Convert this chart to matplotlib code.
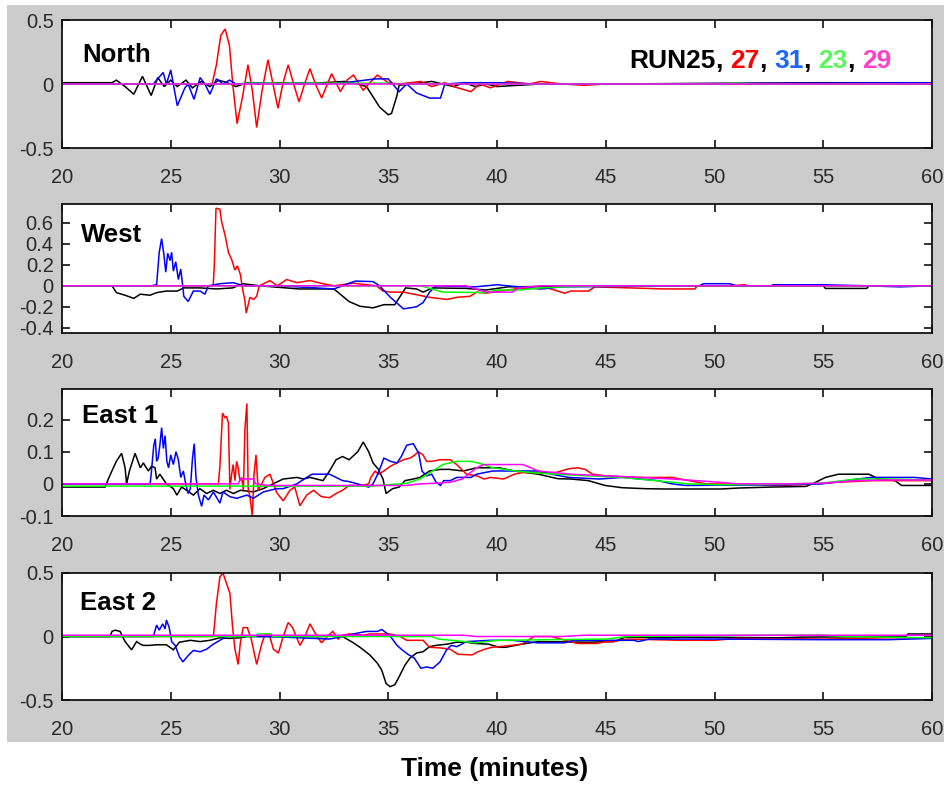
import matplotlib
matplotlib.use("Agg")
import matplotlib.pyplot as plt
from matplotlib.patches import Rectangle

plt.rcParams['font.family'] = ['Liberation Sans', 'DejaVu Sans']

# ---------------- data ----------------
RUN_LABELS = ["RUN25", "27", "31", "23", "29"]
LINE_COLORS = ["#000000", "#ff0000", "#0000ff", "#00ff00", "#ff00ff"]
LABEL_COLORS = ["#000000", "#ff0000", "#1a66ff", "#5cf55c", "#ff40c8"]
PANEL_NAMES = ["North", "West", "East 1", "East 2"]
X_TICKS = [20, 25, 30, 35, 40, 45, 50, 55, 60]
X_LABEL = "Time (minutes)"

NORTH_YTICKS = [-0.5, 0, 0.5]
WEST_YTICKS = [-0.4, -0.2, 0, 0.2, 0.4, 0.6]
EAST1_YTICKS = [-0.1, 0, 0.1, 0.2]
EAST2_YTICKS = [-0.5, 0, 0.5]
NORTH_YLIM = (-0.5, 0.5)
WEST_YLIM = (-0.45, 0.78)
EAST1_YLIM = (-0.1, 0.295)
EAST2_YLIM = (-0.5, 0.5)

# North panel: (time [min], value)
N_RUN25 = [(20, 0.01), (22.3, 0.01), (22.5, 0.03), (22.9, -0.02), (23.3, -0.08), (23.7, 0.06),
           (24.1, -0.09), (24.4, 0.05), (24.7, -0.02), (25.0, 0.03), (25.3, -0.02), (25.7, 0.03),
           (26.0, -0.03), (26.4, 0.02), (26.8, -0.02), (27.2, 0.03), (27.6, 0.01), (28.0, -0.02),
           (28.5, 0.01), (29, 0.0), (30, 0.01), (31, 0.0), (32, 0.01), (33, 0.02), (33.6, 0.0),
           (34.0, -0.02), (34.3, -0.1), (34.6, -0.18), (35.0, -0.24), (35.15, -0.23), (35.4, -0.09),
           (35.5, -0.01), (36, 0.0), (37, 0.02), (37.5, 0.0), (38, -0.02), (38.5, 0.01), (39, -0.02),
           (39.5, 0.0), (40, -0.02), (41, -0.01), (42, 0.0), (45, 0.0), (55, 0.01), (60, 0.01)]
N_RUN27 = [(20, 0.0), (26.9, 0.0), (27.1, 0.15), (27.3, 0.38), (27.5, 0.43), (27.7, 0.3), (27.85, 0.0),
           (28.05, -0.31), (28.3, -0.1), (28.55, 0.15), (28.75, -0.05), (28.95, -0.34), (29.2, -0.05),
           (29.47, 0.19), (29.7, 0.0), (29.93, -0.19), (30.15, 0.0), (30.4, 0.15), (30.65, 0.0),
           (30.9, -0.14), (31.15, 0.0), (31.4, 0.12), (31.65, 0.0), (31.94, -0.11), (32.2, 0.0),
           (32.4, 0.08), (32.8, -0.06), (33.1, 0.03), (33.4, 0.07), (33.85, -0.05), (34.1, 0.0),
           (34.5, 0.07), (35.0, 0.01), (35.5, 0.0), (36.5, 0.02), (37, -0.02), (37.6, 0.01),
           (38.0, -0.02), (38.8, -0.06), (39.2, 0.0), (39.7, -0.03), (40.5, 0.02), (41.5, 0.0),
           (42, 0.02), (43, 0.0), (44, -0.01), (45, 0.0), (60, 0.0)]
N_RUN31 = [(20, 0.0), (24.2, 0.0), (24.45, 0.05), (24.65, 0.09), (24.8, 0.0), (25.0, 0.11),
           (25.3, -0.17), (25.65, -0.03), (25.8, 0.0), (26.07, -0.12), (26.35, 0.05), (26.57, 0.0),
           (26.8, -0.08), (27.1, 0.04), (27.4, 0.0), (27.7, 0.03), (28.0, 0.0), (29, 0.01), (30, 0.0),
           (31, 0.01), (32, 0.0), (33, 0.01), (34.4, 0.04), (35.0, 0.04), (35.5, -0.06), (35.85, 0.0),
           (36.3, -0.07), (36.9, -0.11), (37.4, -0.11), (37.6, 0.0), (38.5, 0.01), (40, 0.01),
           (42, 0.0), (45, 0.0), (60, 0.01)]
N_RUN23 = [(20, 0.0), (28.3, 0.0), (28.4, 0.006), (35, 0.006), (35.1, 0.0), (50, 0.0), (51, 0.006),
           (52, 0.0), (60, 0.0)]
N_RUN29 = [(20, 0.0), (60, 0.0)]

# West panel
W_RUN25 = [(20, 0.0), (22.3, 0.0), (22.5, -0.065), (22.9, -0.09), (23.3, -0.12), (23.6, -0.08),
           (24.05, -0.09), (24.35, -0.065), (24.8, -0.05), (25.3, -0.05), (25.6, -0.02), (26.35, -0.02),
           (27.1, -0.03), (27.85, -0.02), (28.3, 0.02), (29.1, 0.0), (30.9, -0.03), (32.5, -0.03),
           (33.2, -0.15), (33.7, -0.195), (34.3, -0.21), (34.8, -0.18), (35.3, -0.18), (35.55, -0.1),
           (35.8, -0.02), (36.3, -0.03), (36.6, -0.06), (37.05, -0.02), (38.6, -0.025), (39.5, -0.04),
           (40.5, -0.01), (45, 0.0), (55, 0.0), (55.1, -0.025), (57, -0.025), (57.1, 0.0), (60, 0.0)]
W_RUN27 = [(20, 0.0), (26.95, 0.0), (27.0, 0.18), (27.08, 0.74), (27.26, 0.73), (27.34, 0.61),
           (27.5, 0.48), (27.65, 0.32), (27.8, 0.25), (27.95, 0.15), (28.06, 0.19), (28.2, 0.11),
           (28.3, -0.03), (28.4, -0.13), (28.47, -0.26), (28.64, -0.11), (28.8, -0.13), (28.95, -0.1),
           (29.07, 0.0), (29.56, 0.05), (29.9, 0.0), (30.33, 0.06), (30.79, 0.03), (31.4, 0.05),
           (32.0, 0.02), (32.5, 0.0), (33.4, 0.025), (34.45, 0.0), (34.76, -0.05), (35.1, -0.06),
           (35.7, -0.06), (36.9, -0.11), (37.7, -0.13), (38.15, -0.11), (38.76, -0.1), (39.07, -0.06),
           (39.5, -0.07), (40.5, -0.04), (41.0, -0.025), (42.4, -0.025), (43.1, -0.07), (43.4, -0.05),
           (44.2, -0.05), (44.5, -0.01), (47.7, -0.03), (49.1, -0.03), (49.2, 0.0), (50.7, 0.0),
           (51.4, 0.01), (51.5, 0.0), (60, 0.0)]
W_RUN31 = [(20, 0.0), (24.1, 0.0), (24.35, 0.01), (24.47, 0.32), (24.58, 0.45), (24.69, 0.29),
           (24.77, 0.13), (24.86, 0.31), (24.97, 0.24), (25.04, 0.32), (25.12, 0.14), (25.23, 0.23),
           (25.35, 0.06), (25.46, 0.16), (25.55, 0.0), (25.6, -0.1), (25.8, -0.15), (26.04, -0.05),
           (26.35, -0.05), (26.57, -0.08), (26.73, 0.0), (27.26, 0.02), (27.87, 0.03), (28.34, 0.0),
           (30, 0.0), (32.5, -0.03), (32.9, 0.0), (33.2, 0.025), (33.5, 0.045), (34.3, 0.04), (34.6, 0.0),
           (35.1, -0.11), (35.7, -0.22), (36.3, -0.2), (36.6, -0.16), (36.9, -0.06), (37.2, 0.0),
           (39, -0.01), (40, 0.01), (41.5, -0.02), (42, -0.03), (43, -0.01), (49.3, 0.0), (49.5, 0.02),
           (50.7, 0.02), (51, 0.0), (52.6, 0.0), (52.7, 0.01), (55, 0.01), (57, 0.0), (58.5, -0.01),
           (60, 0.0)]
W_RUN23 = [(20, 0.0), (36.5, 0.0), (37.0, -0.03), (37.5, -0.06), (39.5, -0.065), (40.0, -0.04),
           (41.0, -0.04), (42.0, -0.02), (43.0, -0.01), (45.0, 0.0), (60, 0.0)]
W_RUN29 = [(20, 0.0), (38.6, 0.0), (39.0, -0.03), (39.5, -0.06), (40.7, -0.06), (41.0, -0.02),
           (42, 0.0), (60, 0.0)]

# East 1 panel
E1_RUN25 = [(20, -0.01), (21.98, -0.01), (22.13, 0.015), (22.36, 0.05), (22.5, 0.07), (22.74, 0.095),
            (22.9, 0.05), (22.97, 0.0), (23.1, 0.04), (23.36, 0.095), (23.6, 0.05), (23.74, 0.065),
            (23.97, 0.04), (24.12, 0.055), (24.28, 0.05), (24.35, 0.015), (24.5, 0.03), (24.8, 0.0),
            (25.12, -0.015), (25.28, -0.035), (25.5, -0.01), (25.73, -0.02), (26.04, -0.035),
            (26.34, -0.015), (26.65, -0.03), (26.96, -0.02), (27.26, -0.03), (27.56, -0.02),
            (27.88, -0.03), (28.2, -0.02), (28.8, -0.025), (29.25, -0.015), (29.7, 0.0), (30.17, 0.015),
            (30.8, 0.02), (31.1, 0.015), (31.4, 0.02), (32.0, 0.01), (32.3, 0.04), (32.6, 0.075),
            (32.9, 0.085), (33.2, 0.075), (33.6, 0.10), (33.85, 0.13), (34.1, 0.10), (34.3, 0.065),
            (34.55, 0.045), (34.76, 0.015), (34.9, -0.03), (35.2, -0.015), (35.5, -0.01), (35.77, 0.01),
            (36.15, 0.015), (36.46, 0.02), (36.9, 0.04), (37.4, 0.045), (37.8, 0.045), (38.45, 0.04),
            (39.06, 0.05), (40.1, 0.05), (40.8, 0.04), (41.9, 0.03), (42.8, 0.016), (43.4, 0.015),
            (44.2, 0.01), (44.97, -0.005), (45.75, -0.012), (46.8, -0.015), (47.7, -0.016),
            (50.3, -0.016), (51.1, -0.013), (52.6, -0.01), (54.2, -0.008), (54.5, 0.0), (55.1, 0.02),
            (55.7, 0.03), (57.1, 0.03), (57.55, 0.015), (58.3, 0.01), (58.6, -0.005), (60, -0.005)]
E1_RUN27 = [(20, 0.0), (27.19, 0.0), (27.26, 0.055), (27.38, 0.22), (27.5, 0.205), (27.56, 0.21),
            (27.65, 0.19), (27.72, -0.017), (27.8, 0.03), (27.87, 0.06), (27.95, 0.01), (28.03, 0.07),
            (28.1, 0.05), (28.18, 0.01), (28.26, 0.02), (28.34, -0.02), (28.41, 0.17), (28.5, 0.25),
            (28.56, -0.015), (28.64, -0.04), (28.75, -0.1), (28.83, 0.03), (28.92, 0.09), (29.02, -0.02),
            (29.18, 0.0), (29.33, 0.02), (29.56, 0.03), (29.87, -0.027), (30.17, -0.053), (30.48, -0.02),
            (30.7, -0.01), (30.94, -0.068), (31.25, -0.035), (31.56, -0.02), (31.93, -0.04),
            (32.3, -0.043), (32.6, -0.03), (32.9, -0.02), (33.2, -0.005), (33.8, -0.005), (34.1, 0.0),
            (34.2, 0.02), (34.4, 0.04), (34.55, 0.03), (34.8, 0.04), (35.1, 0.055), (35.4, 0.065),
            (35.7, 0.075), (36.0, 0.08), (36.23, 0.09), (36.38, 0.10), (36.6, 0.09), (36.76, 0.07),
            (37.0, 0.07), (37.4, 0.075), (37.85, 0.075), (38.15, 0.06), (38.6, 0.03), (39.07, 0.025),
            (39.4, 0.015), (39.7, 0.02), (40.3, 0.015), (40.8, 0.03), (41.15, 0.035), (42.7, 0.035),
            (43.3, 0.047), (43.7, 0.05), (44.05, 0.045), (44.4, 0.03), (44.97, 0.025), (46.5, 0.02),
            (48.05, 0.02), (49.6, 0.0), (51.9, -0.002), (53.1, -0.005), (54.2, -0.002), (55.7, 0.005),
            (57.2, 0.01), (60, 0.01)]
E1_RUN31 = [(20, 0.0), (24.05, 0.0), (24.1, 0.03), (24.22, 0.12), (24.29, 0.14), (24.35, 0.07),
            (24.42, 0.08), (24.5, 0.12), (24.58, 0.175), (24.66, 0.11), (24.74, 0.15), (24.82, 0.07),
            (24.9, 0.05), (25.0, 0.09), (25.12, 0.06), (25.24, 0.10), (25.35, 0.075), (25.46, 0.02),
            (25.58, 0.04), (25.7, -0.005), (25.8, -0.03), (25.9, -0.015), (26.0, 0.08), (26.08, 0.125),
            (26.16, 0.02), (26.27, -0.035), (26.42, -0.07), (26.53, -0.035), (26.73, -0.05),
            (26.96, -0.025), (27.26, -0.06), (27.4, -0.025), (27.72, -0.04), (28.03, -0.045),
            (28.5, -0.035), (28.8, -0.045), (29.26, -0.025), (29.87, -0.015), (30.17, -0.015),
            (30.8, 0.0), (31.25, 0.02), (31.5, 0.03), (32.3, 0.03), (32.9, 0.01), (33.2, 0.007),
            (33.85, -0.005), (34.1, -0.01), (34.3, 0.0), (34.55, 0.035), (34.8, 0.08), (35.1, 0.07),
            (35.4, 0.065), (35.6, 0.085), (35.85, 0.12), (36.15, 0.125), (36.4, 0.095), (36.55, 0.04),
            (36.76, 0.025), (37.0, 0.03), (37.2, 0.005), (37.4, -0.005), (37.55, 0.01), (37.85, 0.01),
            (38.15, 0.02), (38.8, 0.02), (39.06, 0.03), (39.8, 0.04), (41.9, 0.04), (42.5, 0.03),
            (43.3, 0.02), (44.7, 0.015), (45.75, 0.02), (47.4, 0.01), (48.05, 0.0), (48.65, -0.005),
            (53.1, -0.003), (54.95, 0.0), (56.6, 0.015), (57.2, 0.02), (59.2, 0.02), (60, 0.015)]
E1_RUN23 = [(20, -0.007), (34.2, -0.007), (35.5, 0.0), (35.85, 0.002), (36.45, 0.015), (37.05, 0.04),
            (37.5, 0.06), (38.15, 0.07), (38.8, 0.07), (39.4, 0.06), (39.8, 0.05), (40.85, 0.04),
            (41.6, 0.035), (42.7, 0.03), (44.2, 0.025), (45.75, 0.02), (47.3, 0.01), (48.8, 0.0),
            (50.3, -0.003), (51.9, -0.002), (53.4, 0.0), (54.95, 0.002), (56.5, 0.015), (58.0, 0.015),
            (60, 0.012)]
E1_RUN29 = [(20, 0.0), (28.1, 0.0), (28.2, 0.015), (28.8, 0.015), (28.9, 0.0), (29.5, -0.005),
            (35.8, -0.005), (36.5, 0.0), (37.2, 0.002), (37.85, 0.005), (38.4, 0.015), (39.06, 0.05),
            (39.4, 0.06), (41.2, 0.06), (41.9, 0.04), (43.4, 0.03), (44.97, 0.025), (46.5, 0.02),
            (48.05, 0.015), (49.6, 0.008), (51.1, 0.0), (53.4, 0.0), (54.95, 0.002), (56.5, 0.01),
            (58.0, 0.012), (60, 0.012)]

# East 2 panel
E2_RUN25 = [(20, 0.0), (22.2, 0.0), (22.3, 0.04), (22.44, 0.05), (22.67, 0.04), (22.9, -0.04),
            (23.2, -0.105), (23.43, -0.04), (23.6, -0.06), (23.74, -0.07), (24.05, -0.07),
            (24.35, -0.065), (24.8, -0.065), (25.12, -0.105), (25.4, -0.045), (25.9, -0.03),
            (26.35, -0.04), (26.8, -0.03), (27.26, -0.01), (27.7, -0.015), (28.2, -0.01), (28.5, 0.0),
            (30, 0.0), (32, 0.0), (32.3, 0.01), (32.9, 0.0), (33.1, -0.02), (33.4, -0.05), (33.7, -0.085),
            (34.15, -0.145), (34.5, -0.21), (34.7, -0.265), (34.9, -0.37), (35.08, -0.395), (35.3, -0.38),
            (35.46, -0.33), (35.77, -0.225), (36.0, -0.17), (36.3, -0.13), (36.6, -0.12), (36.9, -0.08),
            (37.2, -0.07), (37.7, -0.06), (38.15, -0.045), (38.6, -0.045), (39.0, -0.055), (39.6, -0.06),
            (40.1, -0.085), (40.4, -0.085), (41.15, -0.06), (41.9, -0.04), (44.2, -0.045), (45.4, -0.04),
            (45.9, -0.005), (47.7, -0.01), (48.5, -0.005), (53, -0.01), (54, -0.005), (58.8, 0.0),
            (58.9, 0.02), (60, 0.02)]
E2_RUN27 = [(20, 0.0), (26.96, 0.0), (27.1, 0.26), (27.26, 0.47), (27.4, 0.5), (27.56, 0.42),
            (27.72, 0.34), (27.84, 0.08), (27.95, -0.1), (28.1, -0.22), (28.2, -0.05), (28.33, 0.07),
            (28.52, 0.07), (28.7, -0.02), (28.95, -0.22), (29.18, -0.06), (29.33, 0.015), (29.53, 0.015),
            (29.72, -0.1), (29.95, -0.13), (30.17, 0.0), (30.4, 0.11), (30.6, 0.07), (30.94, -0.07),
            (31.17, 0.0), (31.4, 0.1), (31.63, 0.03), (31.93, -0.05), (32.2, 0.0), (32.45, 0.04),
            (32.7, -0.02), (32.9, 0.01), (33.2, 0.02), (33.85, 0.01), (34.15, 0.02), (35.08, 0.02),
            (35.55, 0.0), (35.85, -0.03), (36.6, -0.03), (36.9, -0.085), (37.4, -0.09), (37.85, -0.1),
            (38.2, -0.14), (38.85, -0.145), (39.13, -0.12), (39.44, -0.1), (39.75, -0.085),
            (40.4, -0.075), (41.15, -0.06), (41.7, 0.0), (42.5, 0.0), (43.7, -0.055), (44.6, -0.055),
            (45.0, -0.04), (45.3, -0.04), (46, -0.02), (48.5, -0.03), (50, -0.03), (51, -0.015),
            (55, -0.02), (58, -0.01), (60, -0.01)]
E2_RUN31 = [(20, 0.0), (24.2, 0.0), (24.35, 0.09), (24.47, 0.05), (24.63, 0.1), (24.74, 0.06),
            (24.8, 0.13), (24.93, 0.07), (25.04, -0.04), (25.2, -0.07), (25.4, -0.16), (25.56, -0.2),
            (25.8, -0.15), (26.04, -0.11), (26.35, -0.12), (26.65, -0.1), (26.96, -0.06), (27.26, -0.03),
            (27.56, 0.0), (29.5, 0.0), (32.3, -0.02), (32.9, 0.0), (33.4, 0.02), (34.0, 0.04),
            (34.5, 0.04), (34.7, 0.055), (34.9, 0.03), (35.15, -0.01), (35.38, -0.065), (35.6, -0.1),
            (35.9, -0.14), (36.2, -0.17), (36.5, -0.25), (36.76, -0.24), (37.05, -0.25), (37.38, -0.2),
            (37.7, -0.1), (37.9, -0.07), (38.15, -0.08), (38.6, -0.04), (39.7, -0.03), (40.7, -0.03),
            (41.9, -0.05), (43.1, -0.05), (43.5, -0.03), (46.3, -0.03), (46.5, -0.04), (47, -0.02),
            (50, -0.02), (55, -0.025), (58, -0.025), (60, -0.015)]
E2_RUN23 = [(20, 0.0), (28.9, 0.0), (29.0, 0.02), (29.6, 0.02), (29.7, 0.0), (37.0, 0.0),
            (37.3, -0.02), (38.5, -0.04), (39.0, -0.05), (40.0, -0.03), (45.0, -0.02), (46.0, 0.0),
            (52.0, 0.01), (55.0, 0.01), (56, 0.0), (60, -0.01)]
E2_RUN29 = [(20, 0.01), (38.5, 0.01), (39, 0.0), (43, 0.0), (44, 0.01), (60, 0.01)]

PANEL_SERIES = [
    [N_RUN25, N_RUN27, N_RUN31, N_RUN23, N_RUN29],
    [W_RUN25, W_RUN27, W_RUN31, W_RUN23, W_RUN29],
    [E1_RUN25, E1_RUN27, E1_RUN31, E1_RUN23, E1_RUN29],
    [E2_RUN25, E2_RUN27, E2_RUN31, E2_RUN23, E2_RUN29],
]
PANEL_YTICKS = [NORTH_YTICKS, WEST_YTICKS, EAST1_YTICKS, EAST2_YTICKS]
PANEL_YLIMS = [NORTH_YLIM, WEST_YLIM, EAST1_YLIM, EAST2_YLIM]

# ---------------- layout ----------------
W, H = 944, 786
fig = plt.figure(figsize=(W / 100, H / 100), dpi=100)
fig.patch.set_facecolor('white')
fig.add_artist(Rectangle((7 / W, (H - 742) / H), (W - 7) / W, (742 - 5) / H,
                         transform=fig.transFigure, facecolor='#cccccc',
                         edgecolor='none', zorder=-10))

LEFT, RIGHT = 62, 932
PANEL_TB = [(20, 148), (204, 333), (389, 516), (573, 700)]
NAME_POS = [(82, 62), (81, 241.5), (82, 423), (80, 610.5)]
TICK_COLOR = '#2a2a2a'


def fmt(v):
    if v == 0:
        return "0"
    return ("%g" % v)


for i, (top, bot) in enumerate(PANEL_TB):
    ax = fig.add_axes([LEFT / W, (H - bot) / H, (RIGHT - LEFT) / W, (bot - top) / H])
    ax.set_zorder(1)
    ax.set_facecolor('white')
    for series, col in zip(PANEL_SERIES[i], LINE_COLORS):
        ts = [p[0] for p in series]
        vs = [p[1] for p in series]
        ax.plot(ts, vs, color=col, lw=1.1, solid_joinstyle='miter')
    ax.set_xlim(20, 60)
    ax.set_ylim(*PANEL_YLIMS[i])
    ax.set_xticks(X_TICKS)
    ax.set_xticklabels([str(x) for x in X_TICKS])
    ax.set_yticks(PANEL_YTICKS[i])
    ax.set_yticklabels([fmt(v) for v in PANEL_YTICKS[i]])
    ax.tick_params(axis='both', direction='in', length=6, width=1.2, top=True, right=True,
                   labelsize=14.5, labelcolor=TICK_COLOR, color='#111111')
    ax.tick_params(axis='x', pad=14.5)
    ax.tick_params(axis='y', pad=6)
    for s in ax.spines.values():
        s.set_linewidth(1.3)
        s.set_color('#111111')
    nx, ny = NAME_POS[i]
    ax.text(nx / W, (H - ny) / H, PANEL_NAMES[i], fontsize=18.5, fontweight='bold',
            ha='left', va='baseline', color='black', transform=fig.transFigure)

# colored run legend
fig.canvas.draw()
renderer = fig.canvas.get_renderer()
leg_x0, leg_base = 629, 68
full_parts = [(RUN_LABELS[0], LABEL_COLORS[0])]
for lab, col in zip(RUN_LABELS[1:], LABEL_COLORS[1:]):
    full_parts.append((", ", 'black'))
    full_parts.append((lab, col))
kw = dict(fontsize=19, fontweight='bold', ha='left', va='baseline')
top_ax = fig.axes[0]


def width_of(s):
    t = fig.text(0, 0, s, **kw)
    w = t.get_window_extent(renderer).width
    t.remove()
    return w


prefix = ""
for s, col in full_parts:
    stripped = s.rstrip()
    if stripped:
        w_all = width_of(prefix + stripped)
        w_s = width_of(stripped)
        x = leg_x0 + w_all - w_s
        top_ax.text(x / W, (H - leg_base) / H, stripped, color=col,
                    transform=fig.transFigure, **kw)
    prefix += s

fig.text(495 / W, (H - 776) / H, X_LABEL, fontsize=19, fontweight='bold',
         ha='center', va='baseline', color='black')

fig.savefig("out.png", dpi=100, facecolor='white')
